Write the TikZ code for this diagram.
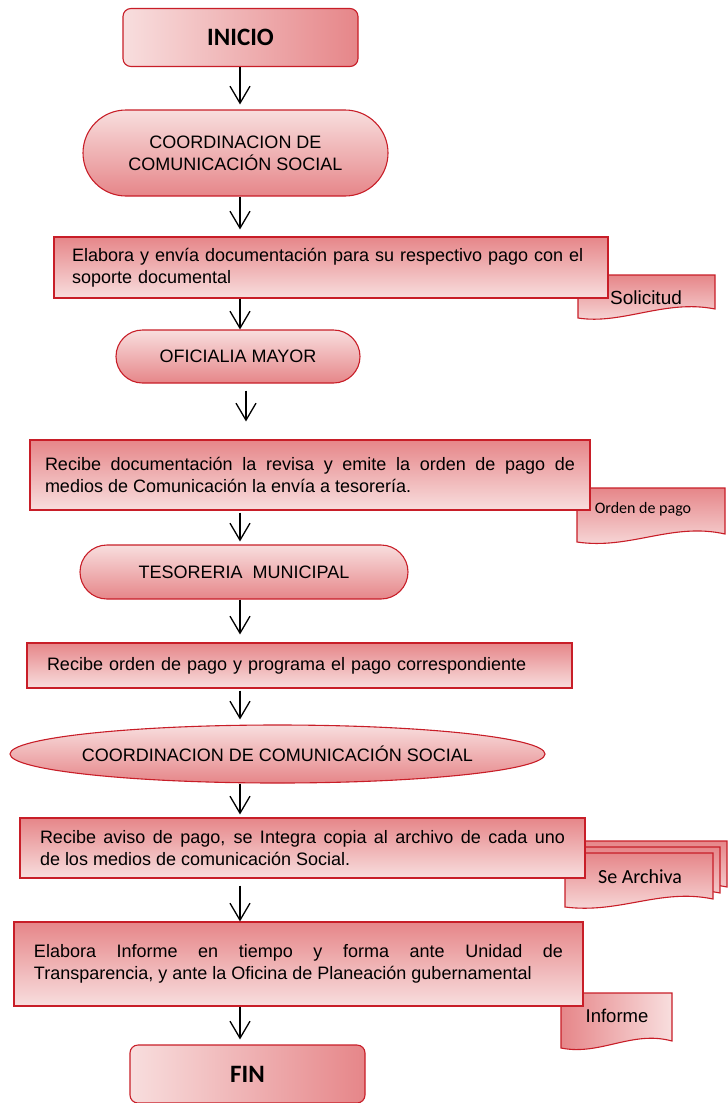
\documentclass[tikz,border=0pt]{standalone}
\usepackage{fontspec}
\setmainfont{Liberation Sans}
\newfontfamily\calibri{Carlito}
\usetikzlibrary{positioning,arrows.meta,shapes.geometric}
\definecolor{borde}{RGB}{200,30,40}
\definecolor{claro}{RGB}{248,222,222}
\definecolor{oscuro}{RGB}{230,134,137}
\newcommand{\texto}{\fontsize{18}{22}\selectfont\hyphenpenalty=10000}

\begin{document}
\begin{tikzpicture}[x=1pt,y=-1pt,
  terminal/.style={rectangle, rounded corners=8pt, draw=borde, line width=1.1pt, left color=claro, right color=oscuro, minimum width=235pt, minimum height=58pt, font=\calibri\bfseries\fontsize{25}{28}\selectfont},
  area/.style={rectangle, draw=borde, line width=1.1pt, top color=claro, bottom color=oscuro, align=center, font=\texto},
  caja/.style={rectangle, draw=borde, line width=1.1pt, top color=oscuro, bottom color=claro, inner xsep=20pt, align=left, font=\texto},
  documento/.style={draw=borde, line width=1.1pt, top color=oscuro, bottom color=claro},
  documentoh/.style={draw=borde, line width=1.1pt, left color=oscuro, right color=claro},
  flecha/.style={draw=black, line width=1.3pt, -{Straight Barb[length=17pt,width=20pt]}}]

\useasboundingbox (0,0) rectangle (728,1103);

% documentos (detras de las cajas)
\path[documento] (578,275) -- (715,275) -- (715,309) .. controls (665,299) and (622,325) .. (578,318) -- cycle;
\node[font=\fontsize{19}{22}\selectfont] (solicitud) at (646,298) {Solicitud};

\path[documento] (577,488) -- (725,488) -- (725,534) .. controls (672,522) and (630,550) .. (577,542) -- cycle;
\node[font=\calibri\fontsize{16}{18}\selectfont] (orden) at (643,509) {Orden de pago};

\path[documento, shift={(14,-12)}] (565,853) -- (713,853) -- (713,899) .. controls (660,888) and (620,914) .. (565,907) -- cycle;
\path[documento, shift={(7,-6)}] (565,853) -- (713,853) -- (713,899) .. controls (660,888) and (620,914) .. (565,907) -- cycle;
\path[documento] (565,853) -- (713,853) -- (713,899) .. controls (660,888) and (620,914) .. (565,907) -- cycle;
\node[font=\calibri\fontsize{20}{24}\selectfont] (archiva) at (640,877) {Se Archiva};

\path[documentoh] (561,993) -- (672,993) -- (672,1041) .. controls (632,1030) and (600,1056) .. (561,1048) -- cycle;
\node[font=\fontsize{18.5}{22}\selectfont] (informe) at (617,1016) {Informe};

% flujo principal
\node[terminal] (inicio) at (240.5,37.5) {INICIO};
\node[area, rounded corners=43pt, minimum width=305pt, minimum height=86pt] (coord1) at (235.5,153) {COORDINACION DE\\COMUNICACIÓN SOCIAL};
\node[caja, inner xsep=18pt, text width=518pt, minimum height=61pt] (elabora) at (331,267.5) {Elabora y envía documentación para su respectivo pago con el\\soporte documental};
\node[area, rounded corners=26.5pt, minimum width=244pt, minimum height=53pt] (oficialia) at (238,356.5) {OFICIALIA MAYOR};
\node[caja, inner xsep=15pt, text width=530pt, minimum height=70pt, align=justify] (recibe) at (310,475) {Recibe documentación la revisa y emite la orden de pago de\linebreak medios de Comunicación la envía a tesorería.};
\node[area, rounded corners=27pt, minimum width=328pt, minimum height=54pt] (tesoreria) at (244,572) {TESORERIA\ \ MUNICIPAL};
\node[caja, text width=505pt, minimum height=45pt] (programa) at (299.5,665.5) {Recibe orden de pago y programa el pago correspondiente};
\node[area, ellipse, inner sep=0pt, minimum width=535pt, minimum height=58pt] (coord2) at (277.5,754) {\makebox[0pt]{COORDINACION DE COMUNICACIÓN SOCIAL}};
\node[caja, text width=525pt, minimum height=60pt, align=justify] (aviso) at (302.5,848) {Recibe aviso de pago, se Integra copia al archivo de cada uno\linebreak de los medios de comunicación Social.};
\node[caja, text width=529pt, minimum height=84pt, align=justify] (reporte) at (298.5,964) {Elabora Informe en tiempo y forma ante Unidad de\linebreak Transparencia, y ante la Oficina de Planeación gubernamental};
\node[terminal] (fin) at (247.5,1074) {FIN};

% flechas
\coordinate (eje) at (240,0);
\coordinate (eje2) at (246,0);
\draw[flecha, shorten >=5pt] (inicio.south -| eje) -- (coord1.north -| eje);
\draw[flecha, shorten >=7pt] (coord1.south -| eje) -- (elabora.north -| eje);
\draw[flecha] (elabora.south -| eje) -- (oficialia.north -| eje);
\draw[flecha, shorten <=7pt, shorten >=18pt] (oficialia.south -| eje2) -- (recibe.north -| eje2);
\draw[flecha, shorten <=2pt, shorten >=3pt] (recibe.south -| eje) -- (tesoreria.north -| eje);
\draw[flecha, shorten >=8pt] (tesoreria.south -| eje) -- (programa.north -| eje);
\draw[flecha, shorten <=2pt, shorten >=5pt] (programa.south -| eje) -- (coord2.north -| eje);
\draw[flecha, shorten >=3pt] (coord2.south -| eje) -- (aviso.north -| eje);
\draw[flecha, shorten <=7pt] (aviso.south -| eje) -- (reporte.north -| eje);
\draw[flecha, shorten >=5pt] (reporte.south -| eje) -- (fin.north -| eje);

\end{tikzpicture}
\end{document}
